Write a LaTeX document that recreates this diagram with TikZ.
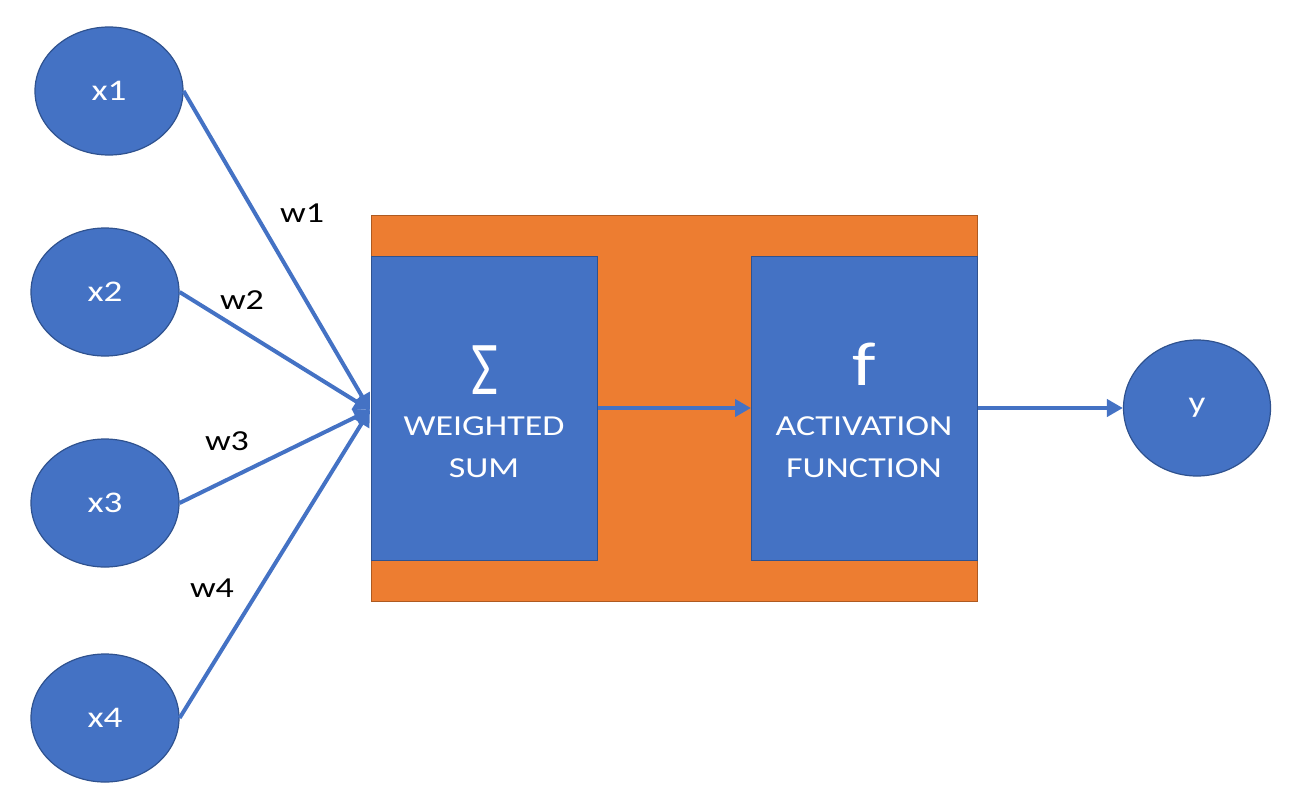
\documentclass[tikz,border=0pt]{standalone}
\usepackage{fontspec}
\setmainfont{Carlito}[FakeStretch=1.24]
\usetikzlibrary{arrows.meta,shapes.geometric}

\definecolor{nodeblue}{HTML}{4472C4}
\definecolor{nodeedge}{HTML}{2F528F}
\definecolor{layerorange}{HTML}{ED7D31}
\definecolor{layeredge}{HTML}{AE5A21}

\tikzset{
	inputnode/.style={ellipse, draw=nodeedge, fill=nodeblue, line width=1.2pt, minimum width=148pt, minimum height=128pt, inner sep=0pt, text=white, font=\fontsize{30}{34}\selectfont},
	blockbox/.style={rectangle, draw=nodeedge, fill=nodeblue, line width=1pt, minimum width=226pt, minimum height=304pt, inner sep=0pt},
	boxtext/.style={align=center, text=white, inner sep=0pt, font=\fontsize{29}{42}\selectfont},
	wire/.style={draw=nodeblue, line width=4pt, -{Triangle[length=16pt, width=17pt]}},
	weight/.style={text=black, font=\fontsize{29}{34}\selectfont}
}

\begin{document}
\begin{tikzpicture}[x=1pt, y=-1pt]
	\useasboundingbox (0,0) rectangle (1303,804);

	% Nodes {x1, x2, x3, x4, y}
	\node [inputnode]	(x1)	at (109,91)		{x1};
	\node [inputnode]	(x2)	at (105,292)	{x2};
	\node [inputnode]	(x3)	at (105,503)	{x3};
	\node [inputnode]	(x4)	at (105,718)	{x4};
	\node [inputnode, minimum width=147pt, minimum height=136pt]	(y)	at (1197,408)	{y};

	% Neuron body
	\node [rectangle, draw=layeredge, fill=layerorange, line width=1pt, minimum width=606pt, minimum height=386pt] (neuron) at (674,408) {};
	\node [blockbox]	(sum)	at (484,408)	{};
	\node [blockbox]	(act)	at (864.5,408)	{};
	\node [boxtext, font=\fontsize{76}{76}\selectfont]	(sigma)	at (485,370)	{\scalebox{0.62}[1]{Σ}};
	\node [boxtext]		(sumtext)	at (484,447)	{WEIGHTED\\SUM};
	\node [boxtext, font=\fontsize{62}{62}\selectfont]	(f)	at (864,364)	{f};
	\node [boxtext]		(acttext)	at (864,447)	{ACTIVATION\\FUNCTION};

	\coordinate (merge) at (370,410);

	% Paths
	\draw [wire]	(x1.east) -- (merge);
	\draw [wire]	(x2.east) -- (merge);
	\draw [wire]	(x3.east) -- (merge);
	\draw [wire]	(x4.east) -- (merge);
	\draw [wire]	(sum) -- (act);
	\draw [wire]	(act) -- (y.west);

	% Weights
	\node [weight]	(w1)	at (302,213)	{w1};
	\node [weight]	(w2)	at (242,300)	{w2};
	\node [weight]	(w3)	at (227,441)	{w3};
	\node [weight]	(w4)	at (212,588)	{w4};

\end{tikzpicture}
\end{document}
